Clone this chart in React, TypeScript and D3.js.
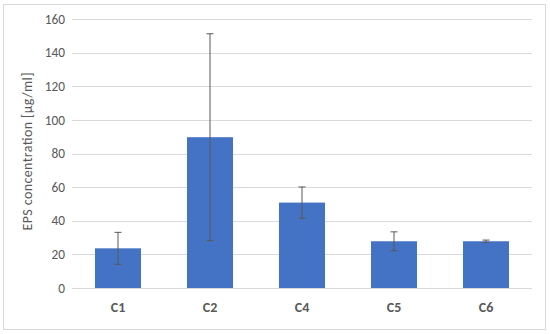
import React from "react";
import * as d3 from "d3";

const categories = ["C1", "C2", "C4", "C5", "C6"];
const values = [23.6, 89.7, 50.8, 27.8, 27.8];
const errors = [9.5, 61.5, 9.3, 5.6, 0.7];
const yTicks = [0, 20, 40, 60, 80, 100, 120, 140, 160];

const W = 550;
const H = 334;
const margin = { left: 72, right: 18, top: 19, bottom: 46 };
const FONT = "Carlito, Calibri, 'Open Sans', 'Liberation Sans', sans-serif";

export default function App() {
  const x = d3
    .scaleBand<string>()
    .domain(categories)
    .range([margin.left, W - margin.right])
    .paddingInner(0.5)
    .paddingOuter(0.25);
  const y = d3.scaleLinear().domain([0, 160]).range([H - margin.bottom, margin.top]);

  return (
    <svg
      width={W}
      height={H}
      style={{ position: "absolute", left: 0, top: 0, background: "#fff" }}
      fontFamily={FONT}
    >
      <rect x={3.5} y={4.5} width={542} height={325} fill="#fff" stroke="#d9d9d9" strokeWidth={1} />
      {yTicks.map((t) => (
        <g key={t}>
          <line
            x1={margin.left}
            x2={W - margin.right}
            y1={Math.round(y(t)) + 0.5}
            y2={Math.round(y(t)) + 0.5}
            stroke="#d9d9d9"
            strokeWidth={1}
          />
          <text
            x={65}
            y={y(t)}
            dy="0.35em"
            textAnchor="end"
            fontSize={13.3}
            fill="#595959"
          >
            {t}
          </text>
        </g>
      ))}
      {categories.map((c, i) => {
        const cx = (x(c) as number) + x.bandwidth() / 2;
        return (
          <g key={c}>
            <rect
              x={x(c)}
              y={y(values[i])}
              width={x.bandwidth()}
              height={y(0) - y(values[i])}
              fill="#4472C4"
            />
            <line
              x1={cx}
              x2={cx}
              y1={y(values[i] + errors[i])}
              y2={y(values[i] - errors[i])}
              stroke="#595959"
              strokeWidth={1}
            />
            <line
              x1={cx - 3.5}
              x2={cx + 3.5}
              y1={y(values[i] + errors[i])}
              y2={y(values[i] + errors[i])}
              stroke="#595959"
              strokeWidth={1}
            />
            <line
              x1={cx - 3.5}
              x2={cx + 3.5}
              y1={y(values[i] - errors[i])}
              y2={y(values[i] - errors[i])}
              stroke="#595959"
              strokeWidth={1}
            />
            <text
              x={cx}
              y={307}
              dy="0.35em"
              textAnchor="middle"
              fontSize={14}
              fontWeight="bold"
              fill="#595959"
            >
              {c}
            </text>
          </g>
        );
      })}
      <text
        transform={`translate(27,${(y(0) + y(160)) / 2 - 2}) rotate(-90)`}
        textAnchor="middle"
        dy="0.35em"
        fontSize={14}
        textLength={158}
        lengthAdjust="spacing"
        fill="#595959"
      >
        EPS concentration [µg/ml]
      </text>
    </svg>
  );
}
